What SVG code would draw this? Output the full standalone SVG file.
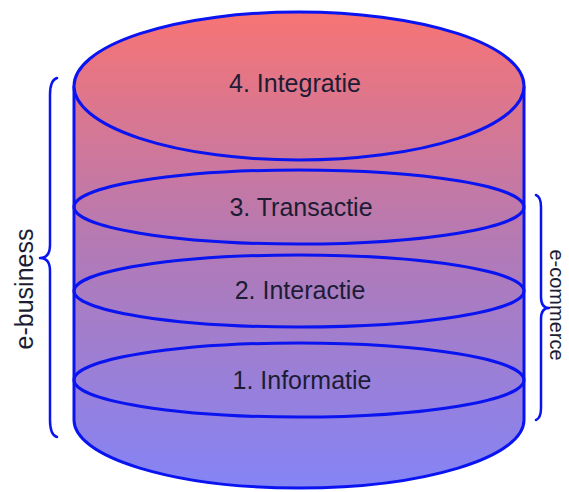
<svg xmlns="http://www.w3.org/2000/svg" width="569" height="492" viewBox="0 0 569 492">
<defs>
<linearGradient id="g" gradientUnits="userSpaceOnUse" x1="0" y1="12" x2="0" y2="488">
<stop offset="0" stop-color="#f77474"/>
<stop offset="0.5" stop-color="#b27ab6"/>
<stop offset="1" stop-color="#8484f6"/>
</linearGradient>
</defs>
<style>
.ln{stroke:#0a14f0;stroke-width:3;fill:none}
.br{stroke:#0a14f0;stroke-width:2.5;fill:none;stroke-linecap:round;stroke-linejoin:round}
.t{font-family:"Liberation Sans",Arial,sans-serif;font-size:25px;fill:#1c1c34;text-anchor:middle}
</style>
<rect width="569" height="492" fill="#ffffff"/>
<g id="cylinder">
<path d="M74,86 L74,420 A225,68 0 0 0 524,420 L524,86 Z" fill="url(#g)"/>
<path class="ln" d="M74,86 L74,420 A225,68 0 0 0 524,420 L524,86"/>
</g>
<g id="layer4">
<ellipse class="ln" cx="299" cy="86" rx="225" ry="74" style="fill:url(#g)"/>
<text class="t" x="295" y="92">4. Integratie</text>
</g>
<g id="layer3">
<ellipse class="ln" cx="299" cy="207" rx="225" ry="37"/>
<text class="t" x="301" y="216">3. Transactie</text>
</g>
<g id="layer2">
<ellipse class="ln" cx="299" cy="291" rx="225" ry="36"/>
<text class="t" x="300" y="299">2. Interactie</text>
</g>
<g id="layer1">
<ellipse class="ln" cx="299" cy="380" rx="225" ry="37"/>
<text class="t" x="302" y="389">1. Informatie</text>
</g>
<g id="connectors">
<path class="br" d="M57,78 Q50,80 50,95 L50,245 Q50,258 40,258 Q50,258 50,271 L50,420 Q50,435 57,437"/>
<path class="br" d="M536,195 Q541,197 541,207 L541,297 Q541,308 549,308 Q541,308 541,319 L541,408 Q541,418 536,420"/>
</g>
<g id="label-ebusiness">
<text class="t" transform="translate(33,289) rotate(-90)">e-business</text>
</g>
<g id="label-ecommerce">
<text class="t" style="font-size:20px" transform="translate(550,305) rotate(90)">e-commerce</text>
</g>
</svg>
